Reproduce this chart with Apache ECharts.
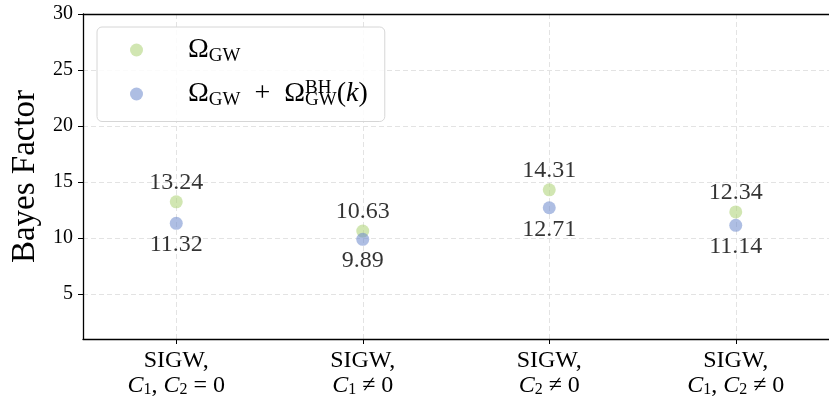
<!DOCTYPE html>
<html>
<head>
<meta charset="utf-8">
<script src="https://cdn.jsdelivr.net/npm/echarts@6/dist/echarts.min.js"></script>
<style>
  html, body { margin: 0; padding: 0; background: #fff; }
  #chart { width: 829px; height: 403px; }
</style>
</head>
<body>
<div id="chart"></div>
<script>
  // categories (rich text: i = italic, s = subscript, n = normal)
  var categories = [
    'SIGW,\n{i|C}{s|1}{n|, }{i|C}{s|2}{n| = 0}',
    'SIGW,\n{i|C}{s|1}{n| ≠ 0}',
    'SIGW,\n{i|C}{s|2}{n| ≠ 0}',
    'SIGW,\n{i|C}{s|1}{n|, }{i|C}{s|2}{n| ≠ 0}'
  ]
  var omegaGW = [13.24, 10.63, 14.31, 12.34]
  var omegaGWBH = [11.32, 9.89, 12.71, 11.14]
  var yTicks = [5, 10, 15, 20, 25, 30]
  var seriesNames = ['Omega_GW', 'Omega_GW + Omega_GW^BH(k)']
  var legendLabels = [
    '{o|Ω}{sub|GW}',
    '{o|Ω}{sub|GW}{o|  +  Ω}{sup|BH}{sub|GW}{o|(}{k|k}{o|)}'
  ]

  var FONT = 'Liberation Serif'
  var GRID_LINE = { color: '#e3e3e3', type: [5, 3], width: 1 }

  function toPoints(arr) {
    return arr.map(function (v, i) { return [i, v] })
  }

  var chart = echarts.init(document.getElementById('chart'))

  var option = {
    animation: false,
    textStyle: { fontFamily: FONT, color: '#000' },
    grid: {
      left: 83,
      top: 14,
      width: 753,
      bottom: 64
    },
    legend: {
      orient: 'vertical',
      left: 97,
      top: 27,
      padding: [9, 17, 12, 33],
      itemGap: 13,
      itemWidth: 13,
      itemHeight: 13,
      icon: 'circle',
      backgroundColor: 'rgba(255,255,255,0.85)',
      borderColor: '#d6d6d6',
      borderWidth: 1,
      borderRadius: 5,
      data: seriesNames,
      formatter: function (name) {
        return legendLabels[seriesNames.indexOf(name)]
      },
      textStyle: {
        padding: [0, 0, 0, 40],
        rich: {
          o: { fontFamily: FONT, fontSize: 28, lineHeight: 31, color: '#000' },
          k: { fontFamily: FONT, fontSize: 28, lineHeight: 31, fontStyle: 'italic', color: '#000' },
          sub: { fontFamily: FONT, fontSize: 19, lineHeight: 17, verticalAlign: 'bottom', color: '#000' },
          sup: { fontFamily: FONT, fontSize: 19, lineHeight: 17, verticalAlign: 'top', width: 0, color: '#000' }
        }
      }
    },
    xAxis: [
      {
        type: 'value',
        min: -0.5,
        max: 3.5,
        z: 1,
        axisLine: { onZero: false, lineStyle: { color: '#000', width: 1.3 } },
        axisTick: { show: true, length: 5, lineStyle: { color: '#000', width: 1 } },
        splitLine: { show: true, lineStyle: GRID_LINE },
        axisLabel: {
          margin: 9,
          fontFamily: FONT,
          fontSize: 24,
          lineHeight: 25,
          color: '#000',
          showMinLabel: false,
          showMaxLabel: false,
          formatter: function (v) {
            return Number.isInteger(v) && categories[v] ? categories[v] : ''
          },
          rich: {
            n: { fontFamily: FONT, fontSize: 24, lineHeight: 25, color: '#000' },
            i: { fontFamily: FONT, fontSize: 24, lineHeight: 25, fontStyle: 'italic', color: '#000' },
            s: { fontFamily: FONT, fontSize: 16, lineHeight: 15, verticalAlign: 'bottom', color: '#000' }
          }
        }
      },
      {
        // top spine
        type: 'value',
        position: 'top',
        min: -0.5,
        max: 3.5,
        z: 1,
        axisLine: { show: true, onZero: false, lineStyle: { color: '#000', width: 1.3 } },
        axisTick: { show: false },
        axisLabel: { show: false },
        splitLine: { show: false }
      }
    ],
    yAxis: {
      type: 'value',
      min: 1,
      max: 30,
      z: 1,
      name: 'Bayes Factor',
      nameLocation: 'middle',
      nameGap: 41,
      nameTextStyle: { fontFamily: FONT, fontSize: 33, color: '#000' },
      axisLine: { show: true, onZero: false, lineStyle: { color: '#000', width: 1.3 } },
      axisTick: { show: true, length: 5, customValues: yTicks, lineStyle: { color: '#000', width: 1 } },
      splitLine: { show: true, lineStyle: GRID_LINE },
      axisLabel: {
        margin: 10,
        fontFamily: FONT,
        fontSize: 20,
        color: '#000',
        customValues: yTicks,
        formatter: function (v) { return v === 1 ? '' : String(v) }
      }
    },
    series: [
      {
        name: seriesNames[0],
        type: 'scatter',
        symbolSize: 13,
        itemStyle: { color: 'rgba(173,210,118,0.7)' },
        data: toPoints(omegaGW),
        label: {
          show: true,
          position: 'top',
          distance: 1,
          fontFamily: FONT,
          fontSize: 24,
          color: '#000',
          formatter: function (p) { return p.value[1].toFixed(2) }
        },
        z: 3
      },
      {
        name: seriesNames[1],
        type: 'scatter',
        symbolSize: 13,
        itemStyle: { color: 'rgba(111,139,205,0.7)' },
        data: toPoints(omegaGWBH),
        label: {
          show: true,
          position: 'bottom',
          distance: 3,
          fontFamily: FONT,
          fontSize: 24,
          color: '#000',
          formatter: function (p) { return p.value[1].toFixed(2) }
        },
        z: 3
      }
    ]
  }

  chart.setOption(option)
</script>
</body>
</html>
